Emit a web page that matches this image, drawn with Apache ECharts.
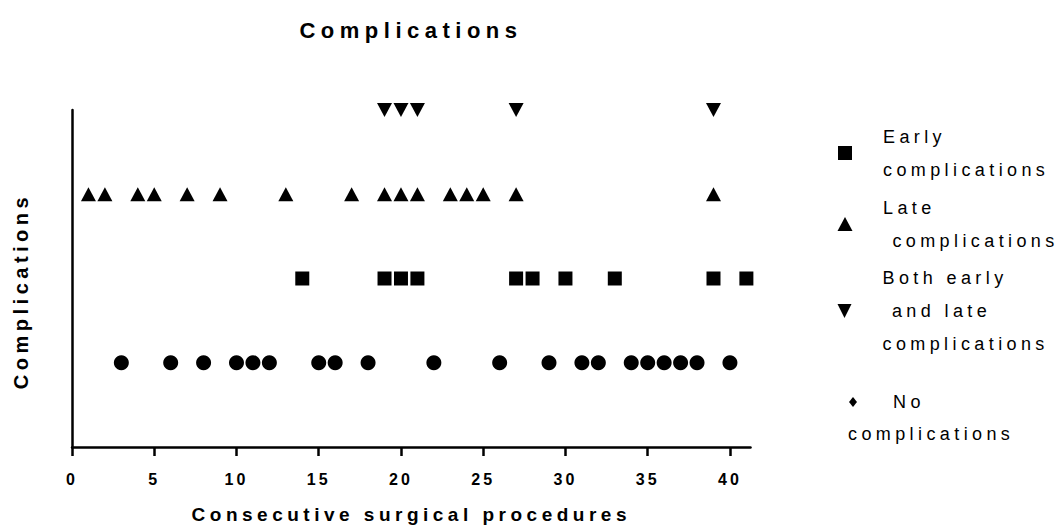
<!DOCTYPE html>
<html>
<head>
<meta charset="utf-8">
<script src="https://cdn.jsdelivr.net/npm/echarts@6/dist/echarts.min.js"></script>
<style>
html, body { margin: 0; padding: 0; background: #ffffff; }
#chart { width: 1058px; height: 529px; }
#chart [style*="22px"] { letter-spacing: 5.5px; }
#chart [style*="20px"] { letter-spacing: 4.5px; }
#chart [style*="19px"] { letter-spacing: 4.5px; }
#chart [style*="18px"] { letter-spacing: 4.4px; }
#chart [style*="16px"] { letter-spacing: 3px; }
</style>
</head>
<body>
<div id="chart"></div>
<script>
// Procedure numbers for each outcome group
const noComplicationsX = [3, 6, 8, 10, 11, 12, 15, 16, 18, 22, 26, 29, 31, 32, 34, 35, 36, 37, 38, 40];
const earlyComplicationsX = [14, 19, 20, 21, 27, 28, 30, 33, 39, 41];
const lateComplicationsX = [1, 2, 4, 5, 7, 9, 13, 17, 19, 20, 21, 23, 24, 25, 27, 39];
const bothComplicationsX = [19, 20, 21, 27, 39];
// Row level of each group on the vertical axis
const rowLevels = { no: 1, early: 2, late: 3, both: 4 };
const xTickValues = [0, 5, 10, 15, 20, 25, 30, 35, 40];
const seriesNames = ['Early complications', 'Late complications', 'Both early and late complications', 'No complications'];

const FONT = '"Liberation Sans", Arial, sans-serif';
const chart = echarts.init(document.getElementById('chart'), null, { renderer: 'svg', width: 1058, height: 529 });

function legendText(size) {
  return { fontFamily: FONT, fontSize: size, color: '#000', lineHeight: 33 };
}

const option = {
  backgroundColor: '#ffffff',
  animation: false,
  grid: { left: 72, right: 307.5, top: 110, bottom: 78, containLabel: false },
  xAxis: {
    type: 'value',
    min: 0,
    max: 41.25,
    name: 'Consecutive surgical procedures',
    nameLocation: 'middle',
    nameGap: 58,
    nameTextStyle: { fontFamily: FONT, fontSize: 19, fontWeight: 'bold', color: '#000' },
    axisLine: { show: true, lineStyle: { color: '#000', width: 2.5 } },
    axisTick: { show: true, length: 9, lineStyle: { color: '#000', width: 2.5 }, customValues: xTickValues },
    axisLabel: { margin: 24, fontFamily: FONT, fontSize: 16, fontWeight: 'bold', color: '#000', customValues: xTickValues },
    splitLine: { show: false }
  },
  yAxis: {
    type: 'value',
    min: 0,
    max: 4,
    name: 'Complications',
    nameLocation: 'middle',
    nameGap: 41,
    nameTextStyle: { fontFamily: FONT, fontSize: 20, fontWeight: 'bold', color: '#000', padding: [0, 25, 0, 0] },
    axisLine: { show: true, lineStyle: { color: '#000', width: 2.5 } },
    axisTick: { show: false },
    axisLabel: { show: false },
    splitLine: { show: false }
  },
  legend: [
    {
      data: [{ name: seriesNames[0], icon: 'rect' }],
      left: 838, top: 120, padding: 0, itemWidth: 14, itemHeight: 14, selectedMode: false,
      formatter: () => 'Early\ncomplications',
      textStyle: Object.assign(legendText(18), { padding: [0, 0, 0, 26] })
    },
    {
      data: [{ name: seriesNames[1], icon: 'triangle' }],
      left: 837.5, top: 191, padding: 0, itemWidth: 15, itemHeight: 14, selectedMode: false,
      formatter: () => 'Late\n complications',
      textStyle: Object.assign(legendText(18), { padding: [0, 0, 0, 25.5] })
    },
    {
      data: [{ name: seriesNames[2], icon: 'path://M0,0 L10,0 L5,10 Z' }],
      left: 837.5, top: 261.5, padding: 0, itemWidth: 15, itemHeight: 14, selectedMode: false,
      formatter: () => 'Both early\n and late\ncomplications',
      textStyle: Object.assign(legendText(18), { padding: [0, 0, 0, 25.5] })
    },
    {
      data: [{ name: seriesNames[3], icon: 'diamond' }],
      left: 849, top: 385.5, padding: 0, itemWidth: 8, itemHeight: 10, selectedMode: false,
      formatter: () => 'No',
      textStyle: Object.assign(legendText(18), { padding: [0, 0, 0, 31] })
    }
  ],
  graphic: [
    {
      type: 'text', x: 411, y: 30, silent: true,
      style: { text: 'Complications', fill: '#000', fontFamily: FONT, fontSize: 22, fontWeight: 'bold', textAlign: 'center', textVerticalAlign: 'middle' }
    },
    {
      type: 'text', x: 848, y: 434, silent: true,
      style: { text: 'complications', fill: '#000', fontFamily: FONT, fontSize: 18, textAlign: 'left', textVerticalAlign: 'middle' }
    }
  ],
  series: [
    {
      name: seriesNames[0], type: 'scatter', symbol: 'rect', symbolSize: 14,
      itemStyle: { color: '#000', opacity: 1 },
      data: earlyComplicationsX.map(x => [x, rowLevels.early])
    },
    {
      name: seriesNames[1], type: 'scatter', symbol: 'triangle', symbolSize: [15, 14],
      itemStyle: { color: '#000', opacity: 1 },
      data: lateComplicationsX.map(x => [x, rowLevels.late])
    },
    {
      name: seriesNames[2], type: 'scatter', symbol: 'triangle', symbolRotate: 180, symbolSize: [15, 14],
      itemStyle: { color: '#000', opacity: 1 },
      data: bothComplicationsX.map(x => [x, rowLevels.both])
    },
    {
      name: seriesNames[3], type: 'scatter', symbol: 'circle', symbolSize: 15,
      itemStyle: { color: '#000', opacity: 1 },
      data: noComplicationsX.map(x => [x, rowLevels.no])
    }
  ]
};
chart.setOption(option);
</script>
</body>
</html>
